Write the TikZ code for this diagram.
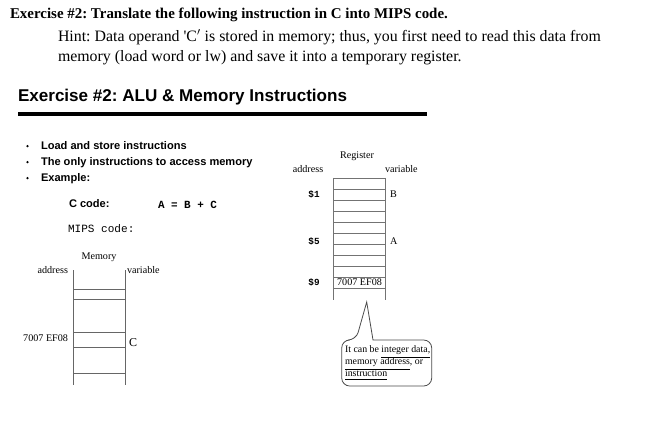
\documentclass[tikz,border=0pt]{standalone}
\usepackage{fontspec}
\setmainfont{Liberation Serif}
\setsansfont{Liberation Sans}
\setmonofont{Liberation Mono}
\frenchspacing
\begin{document}
\begin{tikzpicture}[x=0.75pt,y=-0.75pt,
  txt/.style={inner sep=0pt, outer sep=0pt},
  lbl/.style={txt, font=\fontsize{7.6pt}{9pt}\selectfont},
  reg/.style={txt, font=\fontsize{7pt}{8pt}\selectfont\ttfamily\bfseries},
  bul/.style={txt, anchor=base west, font=\fontsize{8.3pt}{10pt}\selectfont\sffamily\bfseries},
  grid/.style={draw=black!55, line width=0.6pt},
  memline/.style={draw=black!60, line width=0.6pt}]
\useasboundingbox (0,0) rectangle (648,441);
\fill[white] (0,0) rectangle (648,441);
% headings
\node[txt, anchor=base west, font=\fontsize{11.2pt}{13pt}\selectfont\bfseries] (title) at (10,19) {Exercise \#2: Translate the following instruction in C into MIPS code.};
\node[txt, anchor=base west, font=\fontsize{11.9pt}{14pt}\selectfont] (hint1) at (58,41.5) {Hint: Data operand \textquotesingle C$'$ is stored in memory; thus, you first need to read this data from};
\node[txt, anchor=base west, font=\fontsize{11.9pt}{14pt}\selectfont] (hint2) at (58,62) {memory (load word or lw) and save it into a temporary register.};
\node[txt, anchor=base west, font=\fontsize{12.8pt}{15pt}\selectfont\sffamily\bfseries] (head) at (18,101.5) {Exercise \#2: ALU \& Memory Instructions};
\coordinate (r1) at (18,114);
\coordinate (r2) at (427,114);
\draw[line width=2.4pt] (r1) -- (r2);
% bullets
\foreach \y/\t [count=\i] in {149.5/Load and store instructions, 165.5/The only instructions to access memory, 181.5/Example:}{
  \fill (27.5,\y-3.4) circle (1.3);
  \node[bul] (b\i) at (41,\y) {\t};
}
\node[bul] (ccode) at (69,207.5) {C code:};
\node[txt, anchor=base west, font=\fontsize{8.2pt}{9pt}\selectfont\ttfamily\bfseries] (ceq) at (158,209) {A = B + C};
\node[txt, anchor=base west, font=\fontsize{8.3pt}{9pt}\selectfont\ttfamily] (mips) at (68,233) {MIPS code:};
% memory
\node[lbl] (memt) at (99,257) {Memory};
\node[lbl, anchor=east] (maddr) at (68,270) {address};
\node[lbl, anchor=west] (mvar) at (127,270) {variable};
\draw[memline] (73.3,270) -- (73.3,385);
\draw[memline] (125.3,270) -- (125.3,385);
\foreach \y in {289,299.3,332.3,347.3,373.3}{\draw[memline] (73.3,\y) -- (125.3,\y);}
\node[lbl, anchor=east] (maddrv) at (68,338) {7007 EF08};
\node[lbl, font=\fontsize{9pt}{10pt}\selectfont] (mc) at (133,343) {C};
% register
\node[lbl] (regt) at (357,156) {Register};
\node[lbl] (raddr) at (308,169) {address};
\node[lbl, anchor=west] (rvar) at (385,169) {variable};
\draw[grid] (333.3,178) -- (333.3,300);
\draw[grid] (385.7,178) -- (385.7,300);
\foreach \y in {178,189,200.5,211,222,233,244,255,266,277,288}{\draw[grid] (333.3,\y) -- (385.7,\y);}
\node[reg] (s1) at (314,194) {\$1};
\node[reg] (s5) at (314,241) {\$5};
\node[reg] (s9) at (314,282.5) {\$9};
\node[lbl, anchor=west] (vb) at (390,194.5) {B};
\node[lbl, anchor=west] (va) at (390,241.5) {A};
\node[lbl] (rv) at (359.5,282.5) {7007 EF08};
% callout
\coordinate (apex) at (366.7,302);
\draw[black!70, line width=0.6pt, rounded corners=6] (373,340) -- (431.7,340) -- (431.7,386) -- (341.7,386) -- (341.7,340) -- (356,340) [sharp corners] -- (apex) -- cycle;
\node[txt, anchor=north west, align=left, font=\fontsize{7.4pt}{9pt}\selectfont] (note) at (345,346) {It can be \underline{integer data,}\\ \underline{memory address}, or\\ \underline{instruction}};
\end{tikzpicture}
\end{document}
